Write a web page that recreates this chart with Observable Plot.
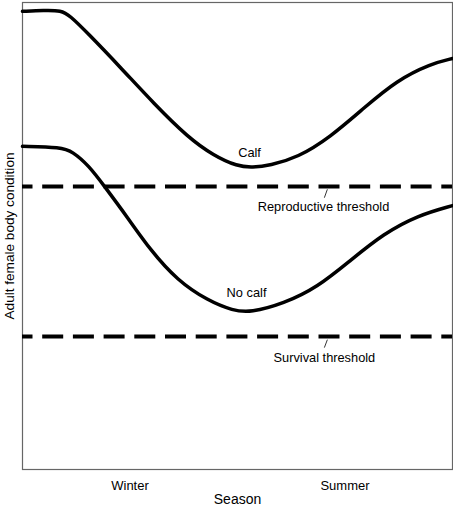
<!DOCTYPE html>
<html>
<head>
<meta charset="utf-8">
<script src="https://cdn.jsdelivr.net/npm/d3@7"></script>
<script src="https://cdn.jsdelivr.net/npm/@observablehq/plot@0.6"></script>
<style>
  body { margin: 0; background: #fff; }
  #chart svg { display: block; }
  g[aria-label="x-axis label"] { font-size: 14px; }
  g[aria-label="y-axis label"] { font-size: 13.6px; }
</style>
</head>
<body>
<div id="chart"></div>
<script>
// Conceptual chart: body condition of adult females through the seasons

const calfX = [0, 5, 9, 11, 15, 23, 30.5, 38.5, 44.5, 50, 53.5, 57.5, 64, 71.5, 79.5, 87, 95, 100];
const calfY = [98.1, 98.3, 98.3, 97.2, 93.6, 85.9, 78.4, 71.1, 67.2, 64.9, 64.7, 65.1, 66.8, 71.1, 77.5, 83.3, 86.9, 88];

const noCalfX = [0, 9, 11.6, 15.4, 19.1, 24.4, 29.8, 36, 43, 49, 53, 60.7, 68.6, 76.3, 84, 91.9, 100];
const noCalfY = [69.2, 69, 68.1, 65.1, 60.6, 54, 46.9, 40.5, 36.2, 34, 33.6, 35.5, 39, 44.8, 50.5, 54.4, 56.5];

const thresholds = [60.6, 28.5];

const seasonTicks = [25, 75];
const seasonNames = ["Winter", "Summer"];

const labelText = ["Calf", "No calf", "Reproductive threshold", "Survival threshold"];
const labelX = [52.8, 52.1, 70, 70.2];
const labelY = [67.8, 37.8, 56.2, 24];

const leaderX1 = [70.9, 70.9];
const leaderY1 = [60, 27.8];
const leaderX2 = [70.2, 70.2];
const leaderY2 = [58.2, 26.1];

const calf = calfX.map((x, i) => ({ x, y: calfY[i] }));
const noCalf = noCalfX.map((x, i) => ({ x, y: noCalfY[i] }));
const labels = labelText.map((text, i) => ({ text, x: labelX[i], y: labelY[i] }));
const leaders = leaderX1.map((x1, i) => ({ x1, y1: leaderY1[i], x2: leaderX2[i], y2: leaderY2[i] }));

const font = "'Liberation Sans', Arial, sans-serif";

const plot = Plot.plot({
  width: 453,
  height: 509,
  marginLeft: 22,
  marginRight: 1,
  marginTop: 2,
  marginBottom: 40,
  style: { fontFamily: font, fontSize: "12.8px", color: "#000", background: "#fff" },
  x: { domain: [0, 100] },
  y: { domain: [0, 100] },
  marks: [
    Plot.frame({ stroke: "#666", strokeWidth: 1.2 }),
    Plot.axisX(seasonTicks, {
      tickSize: 0, tickPadding: 11, fontSize: 13,
      tickFormat: (d, i) => seasonNames[i],
      label: "Season", labelAnchor: "center", labelArrow: "none", labelOffset: 34
    }),
    Plot.axisY([], {
      tickSize: 0,
      label: "Adult female body condition", labelAnchor: "center", labelArrow: "none", labelOffset: 18
    }),
    Plot.ruleY(thresholds, { stroke: "#000", strokeWidth: 4, strokeDasharray: "21 9.7", strokeDashoffset: 10.5 }),
    Plot.line(calf, { x: "x", y: "y", stroke: "#000", strokeWidth: 3.5, curve: "basis" }),
    Plot.line(noCalf, { x: "x", y: "y", stroke: "#000", strokeWidth: 3.5, curve: "basis" }),
    Plot.link(leaders, { x1: "x1", y1: "y1", x2: "x2", y2: "y2", stroke: "#000", strokeWidth: 0.8 }),
    Plot.text(labels, { x: "x", y: "y", text: "text", fontSize: 12.8, fill: "#000", textAnchor: "middle", lineAnchor: "middle" })
  ]
});

document.getElementById("chart").appendChild(plot);
</script>
</body>
</html>
